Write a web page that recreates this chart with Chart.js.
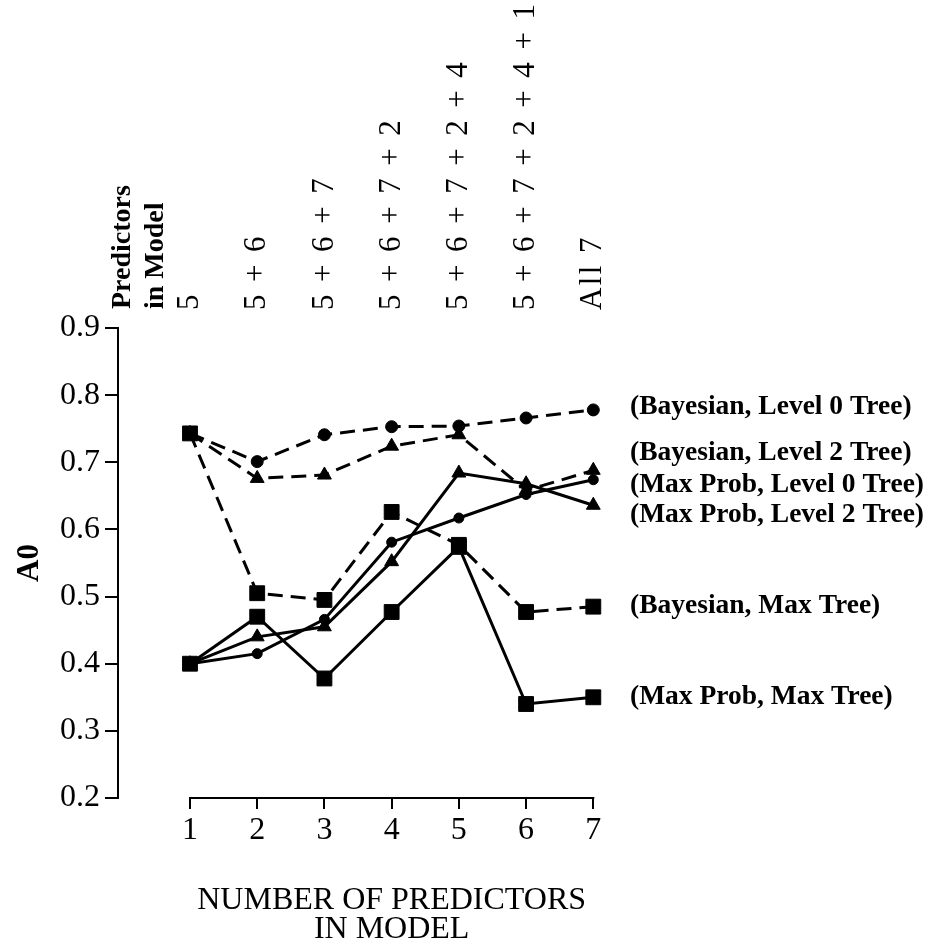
<!DOCTYPE html>
<html>
<head>
<meta charset="utf-8">
<script src="https://cdn.jsdelivr.net/npm/chart.js@4/dist/chart.umd.min.js"></script>
<style>
  html, body { margin: 0; padding: 0; background: #fff; }
  #wrap { width: 934px; height: 945px; }
</style>
</head>
<body>
<div id="wrap"><canvas id="chart" width="934" height="945"></canvas></div>
<script>
// number of predictors in the model
var xValues = [1, 2, 3, 4, 5, 6, 7];
var yTicks = [0.2, 0.3, 0.4, 0.5, 0.6, 0.7, 0.8, 0.9];
var topLabels = ["5", "5 + 6", "5 + 6 + 7", "5 + 6 + 7 + 2", "5 + 6 + 7 + 2 + 4", "5 + 6 + 7 + 2 + 4 + 1", "All 7"];

// A0 for each method / tree
var bayesLevel0 = [0.743, 0.701, 0.741, 0.753, 0.754, 0.766, 0.778];
var bayesLevel2 = [0.743, 0.676, 0.681, 0.724, 0.741, 0.658, 0.688];
var maxProbLevel0 = [0.400, 0.415, 0.466, 0.581, 0.617, 0.652, 0.674];
var maxProbLevel2 = [0.400, 0.440, 0.455, 0.552, 0.684, 0.668, 0.636];
var bayesMax = [0.743, 0.505, 0.495, 0.626, 0.577, 0.477, 0.485];
var maxProbMax = [0.400, 0.470, 0.378, 0.477, 0.574, 0.340, 0.350];

var seriesNames = [
    "(Bayesian, Level 0 Tree)",
    "(Bayesian, Level 2 Tree)",
    "(Max Prob, Level 0 Tree)",
    "(Max Prob, Level 2 Tree)",
    "(Bayesian, Max Tree)",
    "(Max Prob, Max Tree)"
];

var serif = "'Liberation Serif', 'Times New Roman', serif";

function pts(vals) {
    return xValues.map(function (x, i) { return { x: x, y: vals[i] }; });
}

function line(name, vals, dashed, style, radius) {
    return {
        label: name,
        data: pts(vals),
        borderColor: "#000",
        backgroundColor: "#000",
        borderWidth: 3,
        borderDash: dashed ? [15, 8] : [],
        pointStyle: style,
        pointRadius: radius,
        pointBorderWidth: 1,
        pointBackgroundColor: "#000",
        pointBorderColor: "#000",
        tension: 0,
        clip: false
    };
}

// label placement on the right, in data units
var labelAt = [0.782, 0.714, 0.666, 0.621, 0.486, 0.350];

var decor = {
    id: "decor",
    afterDraw: function (chart) {
        var ctx = chart.ctx;
        var xs = chart.scales.x;
        var ys = chart.scales.y;
        var area = chart.chartArea;
        var x1 = xs.getPixelForValue(xValues[0]);
        var x7 = xs.getPixelForValue(xValues[xValues.length - 1]);
        ctx.save();
        ctx.fillStyle = "#000";
        ctx.strokeStyle = "#000";

        // x axis line, only from first to last tick
        ctx.lineWidth = 2;
        ctx.beginPath();
        ctx.moveTo(x1 - 1, area.bottom);
        ctx.lineTo(x7 + 1, area.bottom);
        ctx.stroke();

        // predictor sets, rotated above the plot
        ctx.textAlign = "left";
        ctx.textBaseline = "middle";
        ctx.font = "31px " + serif;
        ctx.letterSpacing = "2.4px";
        topLabels.forEach(function (t, i) {
            ctx.save();
            ctx.translate(xs.getPixelForValue(xValues[i]), 310);
            ctx.rotate(-Math.PI / 2);
            ctx.fillText(t, 0, 0);
            ctx.restore();
        });
        ctx.letterSpacing = "0px";
        ctx.font = "bold 28px " + serif;
        [["Predictors", 123], ["in Model", 156]].forEach(function (p) {
            ctx.save();
            ctx.translate(p[1], 309);
            ctx.rotate(-Math.PI / 2);
            ctx.fillText(p[0], 0, 0);
            ctx.restore();
        });

        // series names on the right
        ctx.font = "bold 27.5px " + serif;
        seriesNames.forEach(function (n, i) {
            ctx.fillText(n, 630, ys.getPixelForValue(labelAt[i]));
        });

        // x axis title
        ctx.font = "32px " + serif;
        ctx.textAlign = "center";
        var cx = (x1 + x7) / 2;
        ctx.fillText("NUMBER OF PREDICTORS", cx, 901);
        ctx.fillText("IN MODEL", cx, 930);
        ctx.restore();
    }
};

var ctx = document.getElementById("chart");
var myChart = new Chart(ctx, {
    type: "line",
    data: {
        datasets: [
            line(seriesNames[4], bayesMax, true, "rect", 10.5),
            line(seriesNames[1], bayesLevel2, true, "triangle", 8),
            line(seriesNames[0], bayesLevel0, true, "circle", 6),
            line(seriesNames[5], maxProbMax, false, "rect", 10.5),
            line(seriesNames[3], maxProbLevel2, false, "triangle", 8),
            line(seriesNames[2], maxProbLevel0, false, "circle", 5)
        ]
    },
    options: {
        responsive: false,
        animation: false,
        layout: { padding: { left: 0, top: 328, right: 340.7, bottom: 0 } },
        plugins: {
            legend: { display: false },
            tooltip: { enabled: false }
        },
        scales: {
            x: {
                type: "linear",
                min: -0.071,
                max: 7,
                afterFit: function (s) { s.height = 147; },
                afterBuildTicks: function (s) {
                    s.ticks = xValues.map(function (v) { return { value: v }; });
                },
                border: { display: false },
                grid: {
                    drawOnChartArea: false,
                    drawTicks: true,
                    tickLength: 11,
                    color: "#000",
                    lineWidth: 2
                },
                ticks: {
                    color: "#000",
                    font: { family: serif, size: 32 },
                    padding: 2,
                    maxRotation: 0,
                    callback: function (v) { return String(v); }
                }
            },
            y: {
                min: 0.2,
                max: 0.9,
                afterFit: function (s) { s.width = 118; },
                afterBuildTicks: function (s) {
                    s.ticks = yTicks.map(function (v) { return { value: v }; });
                },
                border: { display: true, color: "#000", width: 2 },
                grid: {
                    drawOnChartArea: false,
                    drawTicks: true,
                    tickLength: 13,
                    color: "#000",
                    lineWidth: 2
                },
                ticks: {
                    color: "#000",
                    font: { family: serif, size: 32 },
                    padding: 5,
                    callback: function (v) { return Number(v).toFixed(1); }
                },
                title: {
                    display: true,
                    text: "A0",
                    color: "#000",
                    font: { family: serif, size: 31, weight: "bold" },
                    padding: { top: 11, bottom: 0 }
                }
            }
        }
    },
    plugins: [decor]
});
</script>
</body>
</html>
